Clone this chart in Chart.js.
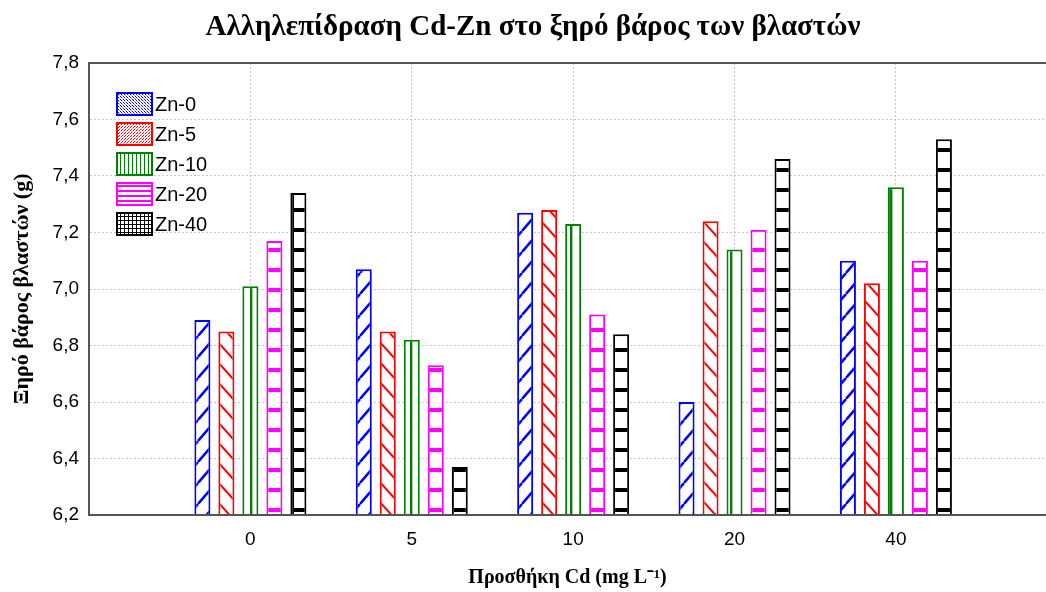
<!DOCTYPE html>
<html>
<head>
<meta charset="utf-8">
<script src="https://cdn.jsdelivr.net/npm/chart.js@4.4.0/dist/chart.umd.min.js"></script>
<style>
  html, body { margin: 0; padding: 0; background: #fff; }
  #wrap { width: 1046px; height: 592px; }
</style>
</head>
<body>
<div id="wrap"><canvas id="chart"></canvas></div>
<script>
const cdLevels    = ['0', '5', '10', '20', '40'];
const seriesNames = ['Zn-0', 'Zn-5', 'Zn-10', 'Zn-20', 'Zn-40'];
const zn0  = [6.89, 7.07, 7.27, 6.60, 7.10];
const zn5  = [6.85, 6.85, 7.28, 7.24, 7.02];
const zn10 = [7.01, 6.82, 7.23, 7.14, 7.36];
const zn20 = [7.17, 6.73, 6.91, 7.21, 7.10];
const zn40 = [7.34, 6.37, 6.84, 7.46, 7.53];
const yTicks = [6.2, 6.4, 6.6, 6.8, 7.0, 7.2, 7.4, 7.6, 7.8];

const colors = ['#0000ff', '#ff0000', '#008000', '#ff00ff', '#000000'];
const serif = '"Liberation Serif", "Times New Roman", serif';
const sans  = '"Liberation Sans", Arial, sans-serif';

// pattern tiles
function tile(w, h, draw) {
  const c = document.createElement('canvas');
  c.width = w; c.height = h;
  const g = c.getContext('2d');
  g.fillStyle = '#fff'; g.fillRect(0, 0, w, h);
  draw(g, w, h);
  return g.createPattern(c, 'repeat');
}
const diag = (color, lw, w, h, up) => tile(w, h, g => {
  g.strokeStyle = color; g.lineWidth = lw;
  for (const s of [-w, 0, w]) {
    g.beginPath();
    if (up) { g.moveTo(s, h); g.lineTo(s + w, 0); }
    else    { g.moveTo(s, 0); g.lineTo(s + w, h); }
    g.stroke();
  }
});

const barFills = [
  diag('#0000ff', 2.5, 18, 21, true),
  diag('#ff0000', 2, 18, 20, false),
  tile(20, 20, g => { g.fillStyle = '#008000'; g.fillRect(10, 0, 2, 20); g.fillStyle = '#9fcf9f'; g.fillRect(12, 0, 1, 20); }),
  tile(20, 20, g => { g.fillStyle = '#ff00ff'; g.fillRect(0, 8, 20, 4); }),
  tile(20, 20, g => { g.fillStyle = '#000'; g.fillRect(0, 8, 20, 4); g.fillRect(11, 0, 3, 20); })
];

const legendFills = [
  tile(3, 3, g => { g.fillStyle = '#0000ff'; g.fillRect(0, 0, 1, 1); g.fillRect(1, 1, 1, 1); g.fillStyle = '#9999ff'; g.fillRect(2, 2, 1, 1); }),
  tile(3, 3, g => { g.fillStyle = '#ff0000'; g.fillRect(2, 0, 1, 1); g.fillRect(1, 1, 1, 1); g.fillStyle = '#ff9999'; g.fillRect(0, 2, 1, 1); }),
  tile(4, 1, g => { g.fillStyle = '#008000'; g.fillRect(0, 0, 1, 1); }),
  tile(1, 5, g => { g.fillStyle = '#ff00ff'; g.fillRect(0, 0, 1, 2); }),
  tile(4, 4, g => { g.fillStyle = '#000'; g.fillRect(0, 0, 4, 1); g.fillRect(0, 0, 1, 4); })
];

const legendPlugin = {
  id: 'boxLegend',
  afterDatasetsDraw(chart) {
    const { ctx, chartArea } = chart;
    ctx.save();
    chart.data.datasets.forEach((ds, i) => {
      const x = chartArea.left + 27, y = chartArea.top + 29 + i * 30;
      ctx.fillStyle = legendFills[i];
      ctx.fillRect(x, y, 37, 24);
      ctx.strokeStyle = ds.borderColor; ctx.lineWidth = 2;
      ctx.strokeRect(x + 1, y + 1, 35, 22);
      ctx.fillStyle = '#000';
      ctx.font = '20px ' + sans;
      ctx.textBaseline = 'middle';
      ctx.fillText(ds.label, x + 39, y + 13);
    });
    ctx.restore();
  }
};

const series = [zn0, zn5, zn10, zn20, zn40];
const datasets = series.map((vals, i) => ({
  label: seriesNames[i],
  data: vals.map((v, j) => ({ x: j, y: v })),
  backgroundColor: barFills[i],
  borderColor: colors[i],
  borderWidth: 2,
  categoryPercentage: 0.7435,
  barPercentage: 0.667
}));

const gridOpts = { color: '#c8c8c8', lineWidth: 1, drawTicks: false, offset: false };

new Chart(document.getElementById('chart'), {
  type: 'bar',
  data: { datasets },
  plugins: [legendPlugin],
  options: {
    responsive: true, maintainAspectRatio: false, animation: false,
    layout: { padding: { left: 20, top: 0, right: 0, bottom: 0 } },
    plugins: {
      legend: { display: false },
      tooltip: { enabled: false },
      title: {
        display: true,
        text: 'Αλληλεπίδραση Cd-Zn στο ξηρό βάρος των βλαστών',
        color: '#000',
        font: { family: serif, size: 29, weight: 'bold' },
        padding: { top: 10.6, bottom: 17.6 }
      }
    },
    scales: {
      x: {
        type: 'linear', min: -1, max: 4.93, offset: false,
        afterBuildTicks: s => { s.ticks = cdLevels.map((c, i) => ({ value: i })); },
        afterFit: s => { s.height = 77; },
        grid: gridOpts,
        border: { display: true, color: '#555', width: 2, dash: [2, 2], z: 1 },
        ticks: {
          autoSkip: false, maxRotation: 0, padding: 13.6, color: '#000',
          font: { family: sans, size: 19 },
          callback: v => cdLevels[v]
        },
        title: {
          display: true, text: 'Προσθήκη Cd (mg L⁻¹)', color: '#000',
          font: { family: serif, size: 20, weight: 'bold' },
          padding: { top: 0, bottom: 2 }
        }
      },
      x2: {
        type: 'linear', position: 'top', offset: false,
        afterFit: s => { s.height = 0; },
        grid: { display: false, drawTicks: false },
        ticks: { display: false },
        border: { display: true, color: '#555', width: 2, z: 1 }
      },
      y: {
        min: 6.2, max: 7.8,
        afterBuildTicks: s => { s.ticks = yTicks.map(v => ({ value: v })); },
        afterFit: s => { s.width = 69; },
        grid: gridOpts,
        border: { display: true, color: '#555', width: 2, dash: [2, 2], z: 1 },
        ticks: {
          padding: 10, color: '#000',
          font: { family: sans, size: 19 },
          callback: v => Number(v).toFixed(1).replace('.', ',')
        },
        title: {
          display: true, text: 'Ξηρό βάρος βλαστών (g)', color: '#000',
          font: { family: serif, size: 22, weight: 'bold' },
          padding: { top: -11, bottom: 0 }
        }
      }
    }
  }
});
</script>
</body>
</html>
